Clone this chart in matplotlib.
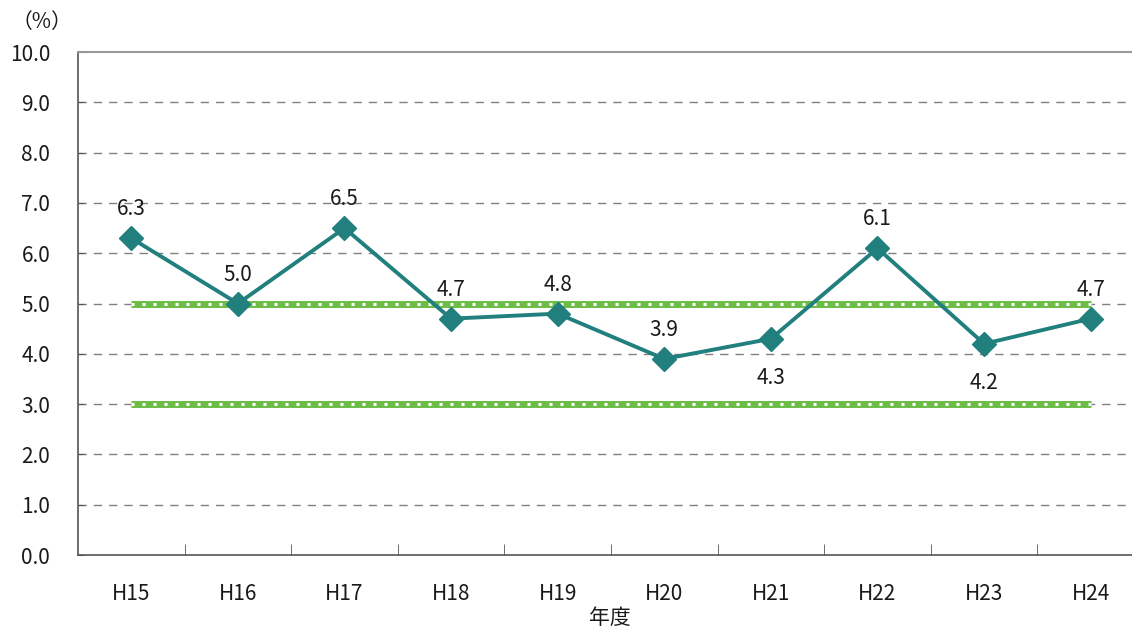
import numpy as np
import matplotlib.pyplot as plt

plt.rcParams['font.family'] = ['Noto Sans CJK JP', 'DejaVu Sans']

years = ["H15", "H16", "H17", "H18", "H19", "H20", "H21", "H22", "H23", "H24"]
rates = [6.3, 5.0, 6.5, 4.7, 4.8, 3.9, 4.3, 6.1, 4.2, 4.7]
label_below = [False, False, False, False, False, False, True, False, True, False]
ref_lines = [5.0, 3.0]

TEAL = "#21807e"
GREEN = "#6cbd45"
FS = 15

fig = plt.figure(figsize=(11.32, 6.28), dpi=100)
ax = fig.add_axes([0.0689, 0.1162, 0.9417, 0.8008])

x = np.arange(len(years))

# reference band lines (green with white squares)
for r in ref_lines:
    ax.plot([x[0], x[-1]], [r, r], color=GREEN, linewidth=5, solid_capstyle="butt", zorder=2)
    ax.plot([x[0], x[-1]], [r, r], color="white", linewidth=2.2, dashes=(1.0, 2.6),
            solid_capstyle="butt", zorder=2.1)

ax.plot(x, rates, color=TEAL, linewidth=2.8, marker="D", markersize=12,
        markerfacecolor=TEAL, markeredgecolor=TEAL, zorder=3)

for xi, v, below in zip(x, rates, label_below):
    if below:
        ax.annotate(f"{v:.1f}", (xi, v), xytext=(0, -20), textcoords="offset points",
                    ha="center", va="top", fontsize=FS, color="#1a1a1a")
    else:
        ax.annotate(f"{v:.1f}", (xi, v), xytext=(0, 13), textcoords="offset points",
                    ha="center", va="bottom", fontsize=FS, color="#1a1a1a")

ax.set_xlim(-0.5, len(years) - 0.5)
ax.set_ylim(0, 10)
ax.set_yticks(np.arange(0, 10.1, 1.0))
ax.set_yticklabels([f"{v:.1f}" for v in np.arange(0, 10.1, 1.0)], fontsize=FS, color="#1a1a1a")
ax.set_xticks(x)
ax.set_xticklabels(years, fontsize=FS, color="#1a1a1a")
ax.tick_params(axis="x", length=0, pad=20)
ax.set_xticks(np.arange(0.5, len(years) - 0.5, 1.0), minor=True)
ax.tick_params(axis="x", which="minor", direction="in", length=8, color="#555555")
ax.tick_params(axis="y", direction="in", length=4, color="#555555", pad=20)

for v in range(1, 10):
    ax.axhline(v, color="#808080", linewidth=1.0, dashes=(6, 5), zorder=1)

ax.spines["top"].set_color("#999999")
ax.spines["top"].set_linewidth(1.5)
ax.spines["right"].set_visible(False)
ax.spines["left"].set_color("#555555")
ax.spines["bottom"].set_color("#555555")
ax.spines["left"].set_linewidth(1.2)
ax.spines["bottom"].set_linewidth(1.2)

fig.text(0.037, 0.965, "（%）", ha="center", va="center", fontsize=FS, color="#1a1a1a")
fig.text(0.539, 0.016, "年度", ha="center", va="center", fontsize=FS, color="#1a1a1a")

fig.savefig("out.png", dpi=100)
